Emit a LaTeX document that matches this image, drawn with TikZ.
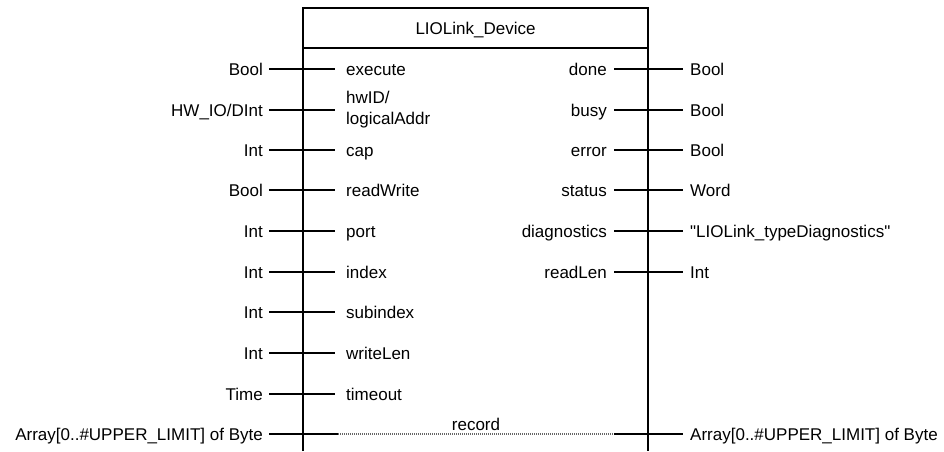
\documentclass[tikz,border=0pt]{standalone}
\usepackage{fontspec}
\setmainfont{Liberation Sans}
\begin{document}
\begin{tikzpicture}[x=1pt,y=-1pt,
  every node/.style={inner sep=0pt, font=\fontsize{17}{21}\selectfont},
  frame/.style={line width=1.3pt},
  pin/.style={line width=1.15pt},
  pass/.style={black!60, line width=1.3pt, dash pattern=on 1.2pt off 0.8pt},
  outL/.style={anchor=base east},
  inL/.style={anchor=base west},
  inR/.style={anchor=base east},
  outR/.style={anchor=base west}]
\useasboundingbox (0,0) rectangle (944,451);

% block frame, open at the bottom
\coordinate (bSW) at (303,451);
\coordinate (bNW) at (303,8);
\coordinate (bNE) at (648,8);
\coordinate (bSE) at (648,451);
\coordinate (hW) at (303,48);
\coordinate (hE) at (648,48);
\draw[frame] (bSW) -- (bNW) -- (bNE) -- (bSE);
\draw[frame] (hW) -- (hE);
\node[anchor=base] (title) at (475.5,34) {LIOLink\_Device};

% input pins
\foreach \y/\n/\ty/\pn in {69/1/Bool/execute, 150/3/Int/cap, 190/4/Bool/readWrite,
    231/5/Int/port, 272/6/Int/index, 312/7/Int/subindex, 353/8/Int/writeLen,
    394/9/Time/timeout}{
  \node[outL] (lt\n) at (263,\y+6) {\ty};
  \node[inL] (lp\n) at (346,\y+6) {\pn};
  \coordinate (la\n) at (269,\y);
  \coordinate (lb\n) at (335,\y);
  \draw[pin] (la\n) -- (lb\n);
}
\node[outL] (lt2) at (263,116) {HW\_IO/DInt};
\node[anchor=west, align=left] (lp2) at (346,110) {hwID/\\logicalAddr};
\coordinate (la2) at (269,110);
\coordinate (lb2) at (335,110);
\draw[pin] (la2) -- (lb2);

% output pins
\foreach \y/\n/\pn/\ty in {69/1/done/Bool, 110/2/busy/Bool, 150/3/error/Bool,
    190/4/status/Word,
    231/5/diagnostics/\textquotedbl LIOLink\_typeDiagnostics\textquotedbl,
    272/6/readLen/Int}{
  \node[inR] (rp\n) at (607,\y+6) {\pn};
  \node[outR] (rt\n) at (690,\y+6) {\ty};
  \coordinate (ra\n) at (614,\y);
  \coordinate (rb\n) at (683,\y);
  \draw[pin] (ra\n) -- (rb\n);
}

% in/out parameter passed through the block
\node[outL] (recL) at (263,440) {Array[0..\#UPPER\_LIMIT] of Byte};
\node[outR] (recR) at (690,440) {Array[0..\#UPPER\_LIMIT] of Byte};
\node[anchor=base] (rec) at (476,430) {record};
\coordinate (ra) at (269,434);
\coordinate (rb) at (338,434);
\coordinate (rc) at (614,434);
\coordinate (rd) at (683,434);
\draw[pin] (ra) -- (rb);
\draw[pass] (rb) -- (rc);
\draw[pin] (rc) -- (rd);
\end{tikzpicture}
\end{document}
